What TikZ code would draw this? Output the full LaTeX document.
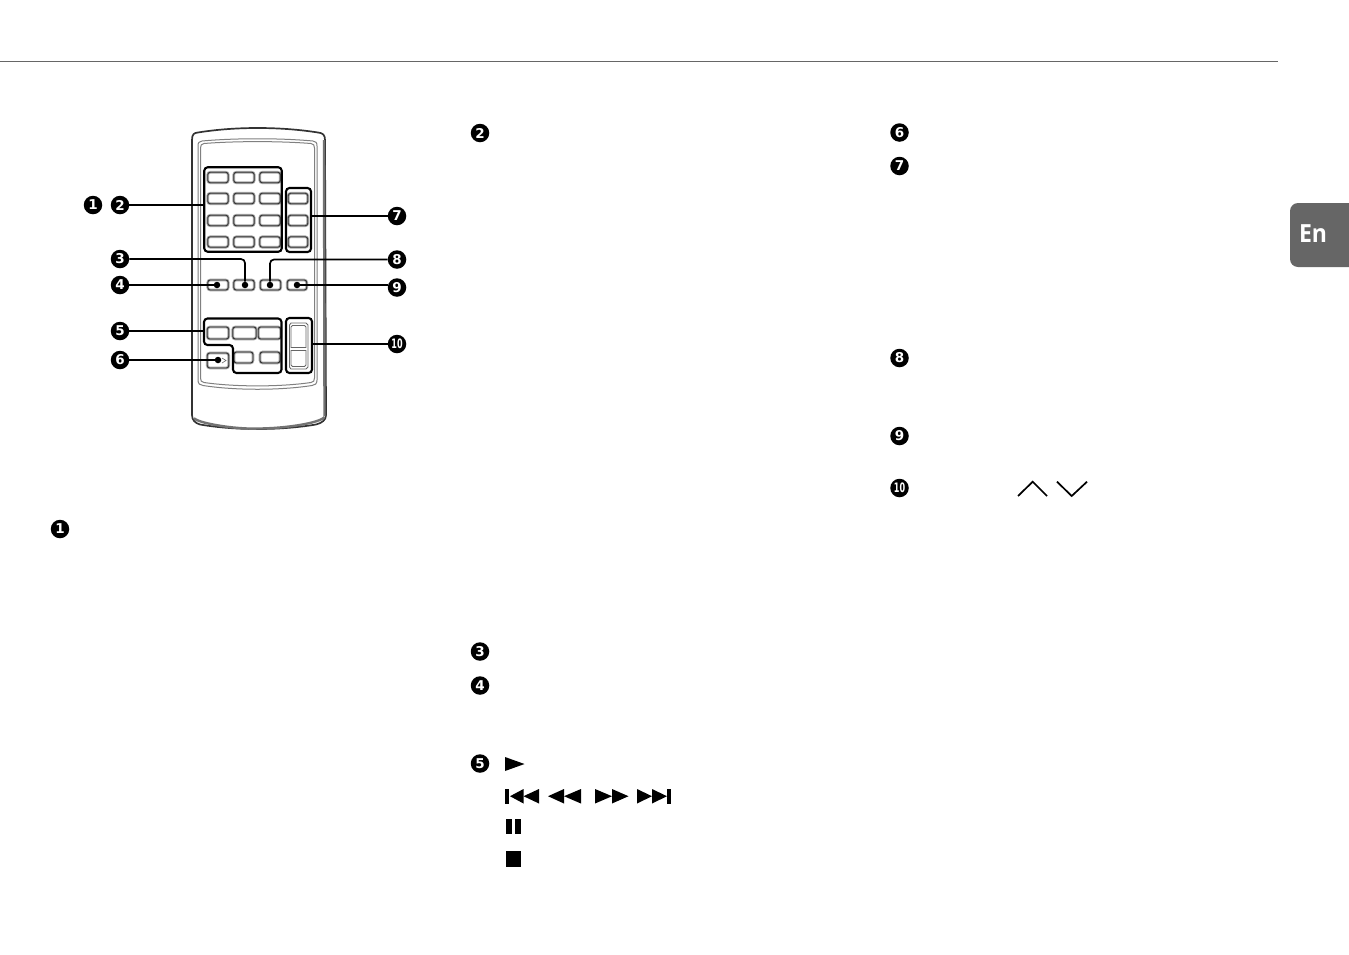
\documentclass[tikz,border=0pt]{standalone}
\usepackage{fontspec}
\setmainfont{DejaVu Sans}
\newfontfamily\tabfont{Open Sans}
\tikzset{
  num/.style={circle,fill=black,text=white,inner sep=0pt,minimum size=18.5pt,font=\fontsize{13.5}{14}\selectfont\bfseries},
  numsmall/.style={num,font=\fontsize{13}{14}\selectfont\bfseries},
  btn/.style={rectangle,rounded corners=2.5pt,inner sep=0pt,draw=black!80,line width=.9pt,preaction={draw=black!35,line width=2.6pt}},
  grp/.style={rectangle,rounded corners=3.5pt,inner sep=0pt,draw=black,line width=2.1pt},
  grpline/.style={draw=black,line width=2.1pt,rounded corners=3.5pt},
  leader/.style={draw=black,line width=1.7pt},
  dot/.style={circle,fill=black,inner sep=0pt,minimum size=6.5pt},
  sym/.style={fill=black,draw=none},
  body/.style={draw=black!80,line width=1.7pt},
  panel/.style={draw=black!50,line width=1pt},
  rocker/.style={draw=black!60,line width=.9pt},
}
\newcommand{\btnat}[5]{\node[btn,minimum width=#4pt,minimum height=#5pt] (#1) at (#2,#3) {};}
\begin{document}
\begin{tikzpicture}[x=1pt,y=-1pt]
\useasboundingbox (0,0) rectangle (1349,954);
% header rule and tab
\draw[draw=black!60,line width=.9pt] (0,61.5) -- (1278,61.5);
\fill[fill=black!60,rounded corners=8pt] (1349,203) -- (1290,203) -- (1290,267) -- (1349,267);
\node[text=white,inner sep=0pt,font=\tabfont\fontsize{25}{25}\selectfont\bfseries,xscale=.92] (tab) at (1313,234) {En};
% remote body
\draw[body,fill=white] (192,140) .. controls (192,134) and (194,133) .. (198,132.5) .. controls (235,126.5) and (280,126.5) .. (318,132.5) .. controls (323,133) and (325,135) .. (325,140) -- (326,415) .. controls (326,420) and (322,423) .. (316,424.5) .. controls (280,430.5) and (235,430.5) .. (200,424.5) .. controls (195,423) and (192,420) .. (192,415) -- cycle;
\draw[draw=black!55,line width=2.4pt] (324,140) -- (324.5,416);
\draw[draw=black!55,line width=2.4pt] (194,418) .. controls (197,423) and (235,429.5) .. (258,428.5) .. controls (285,428.5) and (320,423) .. (324.5,417);
\draw[panel] (198,146) .. controls (198,142.5) and (199,141.5) .. (202,141) .. controls (235,138) and (280,138) .. (313,141) .. controls (316,141.5) and (317,142.5) .. (317,146) -- (317,380) .. controls (317,384) and (315,385) .. (312,385.5) .. controls (280,390.5) and (235,390.5) .. (203,385.5) .. controls (200,385) and (198,384) .. (198,380) -- cycle;
\draw[panel] (200.5,148) .. controls (200.5,145) and (201.5,144) .. (204,143.5) .. controls (235,141) and (280,141) .. (311,143.5) .. controls (313.5,144) and (314.5,145) .. (314.5,148) -- (314.5,378) .. controls (314.5,381) and (313.5,382) .. (311,382.5) .. controls (280,387) and (235,387) .. (204,382.5) .. controls (201.5,382) and (200.5,381) .. (200.5,378) -- cycle;
% number keys
\btnat{a1}{218}{177.5}{20.5}{10.5}\btnat{a2}{244}{177.5}{20.5}{10.5}\btnat{a3}{270}{177.5}{20.5}{10.5}
\btnat{b1}{218}{198.5}{20.5}{10.5}\btnat{b2}{244}{198.5}{20.5}{10.5}\btnat{b3}{270}{198.5}{20.5}{10.5}
\btnat{c1}{218}{220.5}{20.5}{10.5}\btnat{c2}{244}{220.5}{20.5}{10.5}\btnat{c3}{270}{220.5}{20.5}{10.5}
\btnat{d1}{218}{242}{20.5}{10.5}\btnat{d2}{244}{242}{20.5}{10.5}\btnat{d3}{270}{242}{20.5}{10.5}
\btnat{e1}{298}{198.5}{19.5}{10.5}\btnat{e2}{298}{220.5}{19.5}{10.5}\btnat{e3}{298}{242}{19.5}{10.5}
\node[grp,minimum width=77.5pt,minimum height=84.5pt] (gtwo) at (243,209.5) {};
\node[grp,minimum width=25pt,minimum height=64pt] (gseven) at (298.5,220) {};
% middle row
\btnat{f1}{218}{285}{20.5}{10}\btnat{f2}{244}{285}{20.5}{10}\btnat{f3}{270.5}{285}{20.5}{10}\btnat{f4}{297}{285}{19.5}{10}
% transport keys
\btnat{h1}{218}{333}{21.5}{12}\btnat{h2}{244.5}{333}{23.5}{12}\btnat{h3}{269.5}{333}{22.5}{12}
\btnat{i1}{243.5}{357.5}{19}{11}\btnat{i2}{270}{357.5}{20}{11}
\btnat{j1}{218}{360.5}{21.5}{15}
\draw[draw=black!60,line width=.6pt] (222,358) -- (226,360.5) -- (222,363);
\path[grpline] (204,318.5) -- (281.5,318.5) -- (281.5,373) -- (233,373) -- (233,345) -- (204,345) -- cycle;
\coordinate (gfive) at (204,331);
% channel rocker
\node[grp,minimum width=26pt,minimum height=55pt] (gten) at (299,345.5) {};
\draw[rocker] (289.5,325) -- (291,323) -- (306,323) -- (308,325) -- (308,367) -- (306,369) -- (291,369) -- (289.5,367) -- cycle;
\draw[rocker] (291,327) -- (292.5,325.5) -- (304.5,325.5) -- (306,327) -- (306,347.5) -- (291,347.5) -- cycle;
\draw[rocker] (291,350.5) -- (306,350.5) -- (306,365) -- (304.5,366.5) -- (292.5,366.5) -- (291,365) -- cycle;
% dots
\node[dot] (df1) at (217,285) {};
\node[dot] (df2) at (245,285) {};
\node[dot] (df3) at (270,285) {};
\node[dot] (df4) at (297,285) {};
\node[dot] (dj1) at (218,360) {};
% callout numbers
\node[num] (one) at (93,205) {1};
\node[num] (two) at (120,205) {2};
\node[num] (three) at (120,259) {3};
\node[num] (four) at (120,285) {4};
\node[num] (five) at (120,331) {5};
\node[num] (six) at (120,360) {6};
\node[num] (seven) at (397,216) {7};
\node[num] (eight) at (397,259.5) {8};
\node[num] (nine) at (397,287.5) {9};
\node[numsmall] (ten) at (397,344) {\scalebox{.62}[1]{10}};
% leaders
\draw[leader] (two) -- (two -| gtwo.west);
\draw[leader] (seven) -- (seven -| gseven.east);
\draw[leader,rounded corners=4pt] (three) -| (df2);
\draw[leader,rounded corners=4pt] (eight) -| (df3);
\draw[leader] (four) -- (df1);
\draw[leader] (nine.west |- df4) -- (df4);
\draw[leader] (five) -- (gfive);
\draw[leader] (six) -- (dj1);
\draw[leader] (ten) -- (ten -| gten.east);
% description numbers
\node[num] (l1) at (60,529) {1};
\node[num] (l2) at (480,133) {2};
\node[num] (l3) at (480,651.5) {3};
\node[num] (l4) at (480,685.5) {4};
\node[num] (l5) at (480,763.5) {5};
\node[num] (l6) at (899.5,132.5) {6};
\node[num] (l7) at (899.5,166) {7};
\node[num] (l8) at (899.5,358) {8};
\node[num] (l9) at (899.5,436) {9};
\node[numsmall] (l10) at (899.5,488) {\scalebox{.62}[1]{10}};
% transport symbols
\fill[sym] (505,757) -- (524.5,764) -- (505,771) -- cycle;
\fill[sym] (505,789) rectangle (509,803.5);
\fill[sym] (523.5,789) -- (510,796.2) -- (523.5,803.5) -- cycle;
\fill[sym] (539,789) -- (523.5,796.2) -- (539,803.5) -- cycle;
\fill[sym] (564,789) -- (548,796.2) -- (564,803.5) -- cycle;
\fill[sym] (581,789) -- (564,796.2) -- (581,803.5) -- cycle;
\fill[sym] (595,789) -- (612,796.2) -- (595,803.5) -- cycle;
\fill[sym] (612,789) -- (628.5,796.2) -- (612,803.5) -- cycle;
\fill[sym] (637,789) -- (652,796.2) -- (637,803.5) -- cycle;
\fill[sym] (652,789) -- (667,796.2) -- (652,803.5) -- cycle;
\fill[sym] (667,789) rectangle (671,803.5);
\fill[sym] (505.6,819) rectangle (511.6,834);
\fill[sym] (515,819) rectangle (521,834);
\fill[sym] (505.6,851) rectangle (521,866.5);
% chevrons
\draw[draw=black,line width=1.7pt] (1018,496) -- (1032.7,481.7) -- (1047,496);
\draw[draw=black,line width=1.7pt] (1057,481.7) -- (1071.7,496) -- (1087,481.7);
\end{tikzpicture}
\end{document}
